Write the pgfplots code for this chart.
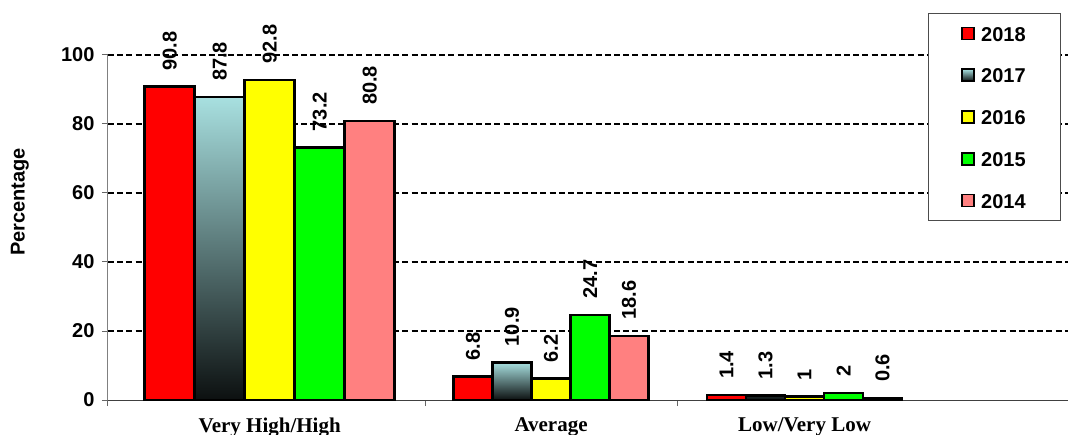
\documentclass[border=0pt]{standalone}
\usepackage{fontspec}
\setmainfont{Liberation Sans}
\newfontfamily\timesf{Liberation Serif}
\usepackage{pgfplots}
\pgfplotsset{compat=1.18}

\definecolor{c18}{RGB}{255,0,0}
\definecolor{c17top}{RGB}{168,224,224}
\definecolor{c17bot}{RGB}{12,16,16}
\definecolor{c16}{RGB}{255,255,0}
\definecolor{c15}{RGB}{0,255,0}
\definecolor{c14}{RGB}{255,128,128}

\newcommand{\lbl}{\fontsize{20}{24}\selectfont\bfseries}

\begin{document}
\begin{tikzpicture}[x=1pt,y=1pt]
\path[use as bounding box] (0,0) rectangle (1071,434);
\begin{axis}[
    at={(108pt,34pt)}, anchor=south west,
    scale only axis, width=960pt, height=345pt,
    xmin=108, xmax=1070, ymin=0, ymax=100,
    ybar,
    clip=false,
    axis x line*=bottom, axis y line*=left,
    x axis line style={black!75, line width=1pt},
    y axis line style={black!50, line width=1pt},
    xtick={108,426,679}, xticklabels={},
    extra x ticks={270,552,806},
    extra x tick labels={Very High/High, Average, Low/Very Low},
    extra x tick style={major tick length=0pt,
        xticklabel style={font=\timesf\fontsize{21}{25}\selectfont\bfseries, yshift=-14pt}},
    ytick={20,40,60,80,100},
    extra y ticks={0},
    extra y tick style={grid=none},
    ymajorgrids,
    grid style={black, line width=1.8pt, dash pattern=on 6pt off 3.2pt},
    tick align=outside, major tick length=6pt,
    tick style={black!60, line width=1pt},
    /pgf/number format/assume math mode=true,
    yticklabel style={font=\lbl, xshift=-4pt},
    every node near coord/.append style={font=\lbl, text=black, rotate=90,
        anchor=west, inner xsep=15pt, inner ysep=0pt},
    nodes near coords,
    legend image code/.code={
        \draw[#1, draw=black, line width=1.8pt] (0pt,-6pt) rectangle (12pt,6pt);},
    legend style={at={(0.854,1.1217)}, anchor=north west, draw=black!70,
        line width=1pt, font=\lbl, inner xsep=33pt, inner ysep=10.5pt,
        row sep=22.75pt, nodes={inner sep=2pt, text height=15pt, text depth=0pt},
        /tikz/every odd column/.append style={column sep=4pt}},
    legend cell align=left,
]
% group 1 (wider bars)
\addplot[draw=black, line width=2.5pt, fill=c18, bar width=50pt, bar shift=-100pt] coordinates {(270,90.8)};
\addlegendentry{2018}
\addplot[draw=black, line width=2.5pt, top color=c17top, bottom color=c17bot, bar width=50pt, bar shift=-50pt] coordinates {(270,87.8)};
\addlegendentry{2017}
\addplot[draw=black, line width=2.5pt, fill=c16, bar width=50pt, bar shift=0pt] coordinates {(270,92.8)};
\addlegendentry{2016}
\addplot[draw=black, line width=2.5pt, fill=c15, bar width=50pt, bar shift=50pt] coordinates {(270,73.2)};
\addlegendentry{2015}
\addplot[draw=black, line width=2.5pt, fill=c14, bar width=50pt, bar shift=100pt] coordinates {(270,80.8)};
\addlegendentry{2014}

% groups 2 and 3
\addplot[forget plot, draw=black, line width=2.5pt, fill=c18, bar width=39pt, bar shift=-78pt] coordinates {(552,6.8) (806,1.4)};
\addplot[forget plot, draw=black, line width=2.5pt, top color=c17top, bottom color=c17bot, bar width=39pt, bar shift=-39pt] coordinates {(552,10.9) (806,1.3)};
\addplot[forget plot, draw=black, line width=2.5pt, fill=c16, bar width=39pt, bar shift=0pt] coordinates {(552,6.2) (806,1)};
\addplot[forget plot, draw=black, line width=2.5pt, fill=c15, bar width=39pt, bar shift=39pt] coordinates {(552,24.7) (806,2)};
\addplot[forget plot, draw=black, line width=2.5pt, fill=c14, bar width=39pt, bar shift=78pt] coordinates {(552,18.6) (806,0.6)};

\node[font=\lbl, rotate=90] at (rel axis cs:-0.0917,0.574) {Percentage};
\end{axis}
\end{tikzpicture}
\end{document}
